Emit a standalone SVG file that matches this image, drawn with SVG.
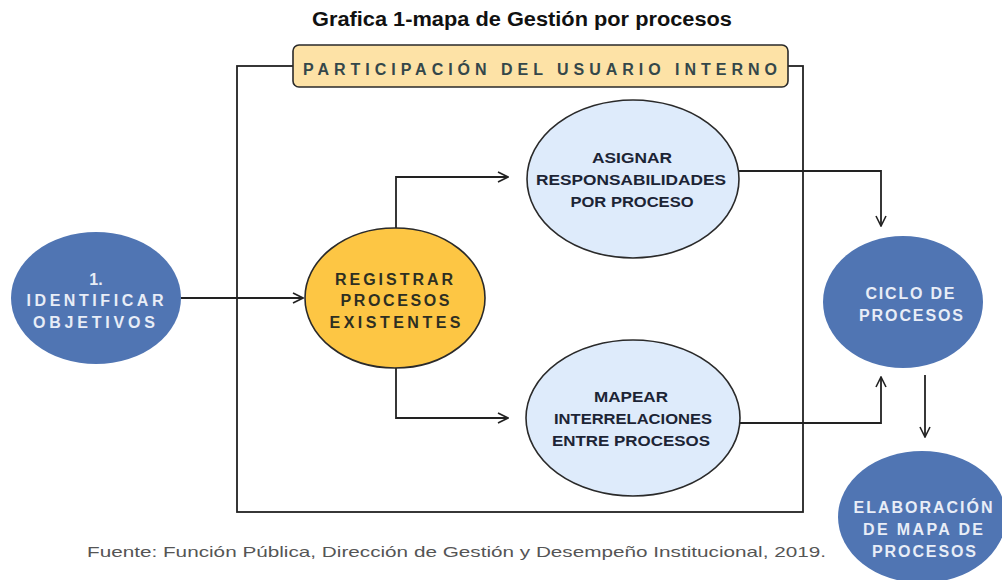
<svg xmlns="http://www.w3.org/2000/svg" width="1002" height="580" viewBox="0 0 1002 580">
<style>
  .title{font-family:"Liberation Sans",Arial,sans-serif;font-weight:bold;font-size:20px;fill:#111;}
  .lbl{font-family:"Liberation Sans",Arial,sans-serif;font-weight:bold;font-size:16px;text-anchor:middle;}
  .sm{font-size:15px;}
  .w{fill:#e8edf7;}
  .d{fill:#2e2f22;}
  .n{fill:#1c2435;}
  .blue{fill:#5075b3;stroke:none;}
  .lb{fill:#deebfb;stroke:#2a2a2a;stroke-width:1.6;}
  .gold{fill:#fdc644;stroke:#2a2a2a;stroke-width:1.6;}
  .conn{fill:none;stroke:#222;stroke-width:1.8;}
  .foot{font-family:"Liberation Sans",Arial,sans-serif;font-size:14.5px;fill:#555;}
</style>
<defs>
  <marker id="arr" viewBox="0 0 12 12" refX="11" refY="6" markerWidth="12" markerHeight="12" markerUnits="userSpaceOnUse" orient="auto">
    <path d="M1,1 L11,6 L1,11" fill="none" stroke="#222" stroke-width="1.6"/>
  </marker>
</defs>
<rect width="1002" height="580" fill="#fff"/>
<text class="title" x="522" y="26" text-anchor="middle" textLength="420" lengthAdjust="spacingAndGlyphs">Grafica 1-mapa de Gestión por procesos</text>

<g id="frame">
  <rect x="237" y="66" width="566" height="446" fill="none" stroke="#222" stroke-width="1.8"/>
  <rect x="293" y="45" width="495" height="42" rx="6" fill="#fde2a6" stroke="#2a2a2a" stroke-width="1.6"/>
  <text class="lbl" x="540" y="75" fill="#34474a" textLength="474" lengthAdjust="spacing">PARTICIPACIÓN DEL USUARIO INTERNO</text>
</g>

<g id="connectors">
  <line class="conn" x1="181" y1="298" x2="303" y2="298" marker-end="url(#arr)"/>
  <polyline class="conn" points="396,228 396,177 508,177" marker-end="url(#arr)"/>
  <polyline class="conn" points="396,368 396,418 508,418" marker-end="url(#arr)"/>
  <polyline class="conn" points="739,171 881,171 881,226" marker-end="url(#arr)"/>
  <polyline class="conn" points="740,423 881,423 881,377" marker-end="url(#arr)"/>
  <line class="conn" x1="925" y1="375" x2="925" y2="437" marker-end="url(#arr)"/>
</g>

<g id="identificar">
  <ellipse class="blue" cx="96" cy="298" rx="85" ry="66"/>
  <text class="lbl w" x="96" y="285">1.</text>
  <text class="lbl w" x="95" y="306" textLength="137" lengthAdjust="spacing">IDENTIFICAR</text>
  <text class="lbl w" x="94" y="328" textLength="122" lengthAdjust="spacing">OBJETIVOS</text>
</g>

<g id="registrar">
  <ellipse class="gold" cx="395" cy="298" rx="90" ry="70"/>
  <text class="lbl d" x="394" y="285" textLength="118" lengthAdjust="spacing">REGISTRAR</text>
  <text class="lbl d" x="395" y="306" textLength="109" lengthAdjust="spacing">PROCESOS</text>
  <text class="lbl d" x="395" y="328" textLength="131" lengthAdjust="spacing">EXISTENTES</text>
</g>

<g id="asignar">
  <ellipse class="lb" cx="633" cy="179" rx="106" ry="79"/>
  <text class="lbl sm n" x="632" y="163" textLength="80" lengthAdjust="spacingAndGlyphs">ASIGNAR</text>
  <text class="lbl sm n" x="631" y="185" textLength="190" lengthAdjust="spacingAndGlyphs">RESPONSABILIDADES</text>
  <text class="lbl sm n" x="632" y="207" textLength="123" lengthAdjust="spacingAndGlyphs">POR PROCESO</text>
</g>

<g id="mapear">
  <ellipse class="lb" cx="633" cy="418" rx="107" ry="78"/>
  <text class="lbl sm n" x="631" y="402" textLength="74" lengthAdjust="spacingAndGlyphs">MAPEAR</text>
  <text class="lbl sm n" x="633" y="424" textLength="158" lengthAdjust="spacingAndGlyphs">INTERRELACIONES</text>
  <text class="lbl sm n" x="631" y="446" textLength="158" lengthAdjust="spacingAndGlyphs">ENTRE PROCESOS</text>
</g>

<g id="ciclo">
  <ellipse class="blue" cx="903" cy="302" rx="80" ry="66"/>
  <text class="lbl w" x="910" y="299" textLength="89" lengthAdjust="spacing">CICLO DE</text>
  <text class="lbl w" x="911" y="321" textLength="104" lengthAdjust="spacing">PROCESOS</text>
</g>

<g id="elaboracion">
  <ellipse class="blue" cx="922" cy="517" rx="84" ry="66"/>
  <text class="lbl w" x="923" y="513" textLength="139" lengthAdjust="spacing">ELABORACIÓN</text>
  <text class="lbl w" x="923" y="535" textLength="120" lengthAdjust="spacing">DE MAPA DE</text>
  <text class="lbl w" x="924" y="557" textLength="104" lengthAdjust="spacing">PROCESOS</text>
</g>

<text class="foot" x="87" y="557" textLength="739" lengthAdjust="spacingAndGlyphs">Fuente: Función Pública, Dirección de Gestión y Desempeño Institucional, 2019.</text>
</svg>
